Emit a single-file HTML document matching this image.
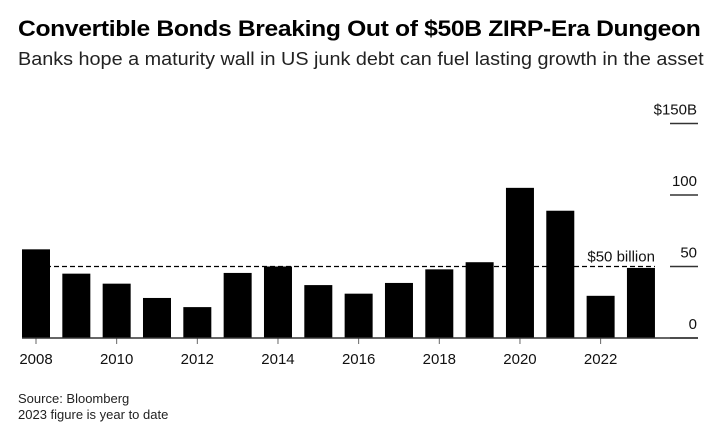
<!DOCTYPE html>
<html><head><meta charset="utf-8"><style>
body{margin:0;background:#fff;font-family:"Liberation Sans",sans-serif;}
#wrap{position:relative;width:717px;height:434px;overflow:hidden;}
.t{position:absolute;white-space:nowrap;color:#000;transform-origin:0 0;}
</style></head><body>
<div id="wrap">
<div class="t" style="left:18px;top:16px;font-size:22px;font-weight:bold;letter-spacing:-0.3px;transform:scaleX(1.12);">Convertible Bonds Breaking Out of $50B ZIRP-Era Dungeon</div>
<div class="t" style="left:18px;top:49px;font-size:18px;color:#222;transform:scaleX(1.1);">Banks hope a maturity wall in US junk debt can fuel lasting growth in the asset</div>
<svg id="chart" width="717" height="434" style="position:absolute;left:0;top:0;"></svg>
<div class="t" style="left:18px;top:391px;font-size:13px;color:#222;">Source: Bloomberg</div>
<div class="t" style="left:18px;top:407px;font-size:13px;color:#222;">2023 figure is year to date</div>
</div>
<script>
const years=[2008,2009,2010,2011,2012,2013,2014,2015,2016,2017,2018,2019,2020,2021,2022,2023];
const values=[62,45,38,28,21.6,45.5,50,37,31,38.5,48,53,105,89,29.5,49];
const yTicks=[0,50,100,150];
const yTickLabels=["0","50","100","$150B"];
const refValue=50;
const refLabel="$50 billion";
const svg=document.getElementById('chart');
const NS="http://www.w3.org/2000/svg";
const y0=338, pxPer=71.5/50, x0=22, pitch=40.33, bw=28;
const y=v=>y0-v*pxPer;
const x=i=>x0+i*pitch;
function mk(tag,attrs){const e=document.createElementNS(NS,tag);for(const k in attrs)e.setAttribute(k,attrs[k]);svg.appendChild(e);return e;}
yTicks.forEach((t,i)=>{
  const g=mk('line',{x1:670,x2:698,y1:y(t),y2:y(t),stroke:'#333','stroke-width':1.5});
  
  
  const l=mk('text',{x:697,y:y(t)-9,'text-anchor':'end','font-size':15,fill:'#111'});
  l.textContent=yTickLabels[i];
  
  
});
values.forEach((v,i)=>{
  const r=mk('rect',{x:x(i),y:y(v),width:bw,height:y0-y(v),fill:'#000'});
  
  
  if(years[i]%2===0){
    const tk=mk('line',{x1:x(i)+bw/2,x2:x(i)+bw/2,y1:y0,y2:y0+6,stroke:'#666','stroke-width':1});
    
    
    const tl=mk('text',{x:x(i)+bw/2,y:y0+26,'text-anchor':'middle','font-size':15,fill:'#111'});
    tl.textContent=years[i];
    
    
  }
});
const ax=mk('line',{x1:x0,x2:698,y1:y0,y2:y0,stroke:'#333','stroke-width':1.5});


const ref=mk('line',{x1:x0,x2:x(15)+bw,y1:y(refValue),y2:y(refValue),stroke:'#000','stroke-width':1.3,'stroke-dasharray':'5,3'});


const rl=mk('text',{x:x(15)+bw,y:y(refValue)-5,'text-anchor':'end','font-size':15,fill:'#111'});
rl.textContent=refLabel;


</script>
</body></html>
